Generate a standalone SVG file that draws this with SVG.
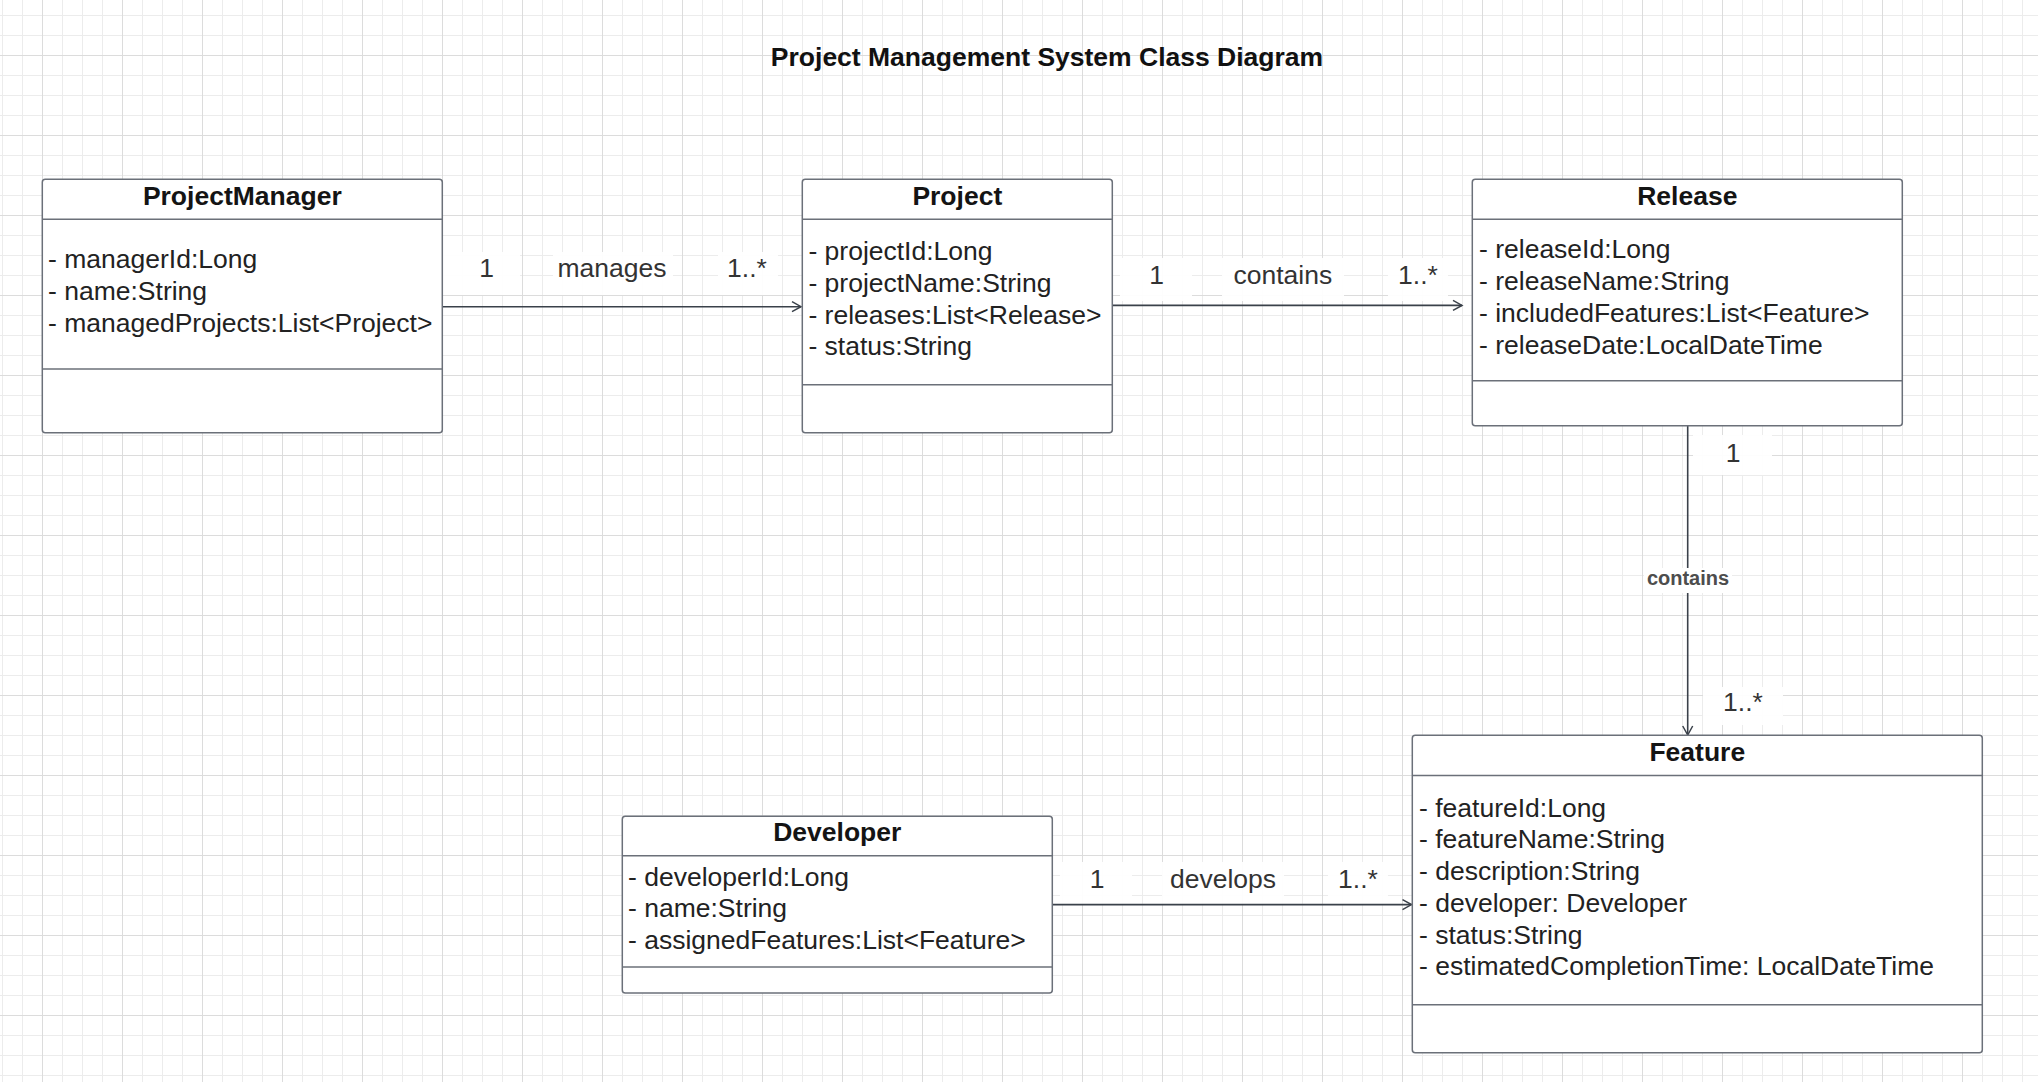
<svg xmlns="http://www.w3.org/2000/svg" width="2038" height="1082" viewBox="0 0 2038 1082">
<defs>
<pattern id="grid" x="2" y="15" width="80" height="80" patternUnits="userSpaceOnUse">
<path d="M0.5,0V80M20.5,0V80M60.5,0V80M0,0.5H80M0,20.5H80M0,60.5H80" stroke="#ececec" stroke-width="1" fill="none"/>
<path d="M40.5,0V80M0,40.5H80" stroke="#dcdcdc" stroke-width="1" fill="none"/>
</pattern>
<marker id="arr" markerWidth="14" markerHeight="14" refX="0" refY="0" viewBox="-12 -7 14 14" markerUnits="userSpaceOnUse" orient="auto">
<path d="M-9,-5 L0,0 L-9,5" fill="none" stroke="#3a414a" stroke-width="1.5"/>
</marker>
<style>
.box{fill:#fff;stroke:#6b7079;stroke-width:1.5}
.sep{stroke:#6b7079;stroke-width:1.5}
.hdr{font-family:"Liberation Sans",Arial,sans-serif;font-size:26.5px;font-weight:bold;fill:#141414;text-anchor:middle}
.att{font-family:"Liberation Sans",Arial,sans-serif;font-size:26.5px;fill:#222}
.lbl{font-family:"Liberation Sans",Arial,sans-serif;font-size:26.5px;fill:#333;text-anchor:middle}
.small{font-family:"Liberation Sans",Arial,sans-serif;font-size:20px;font-weight:bold;fill:#4d4d4d;text-anchor:middle}
.bg{fill:#fff;opacity:0.92}
.con{stroke:#3a414a;stroke-width:1.6;fill:none}
</style>
</defs>
<rect width="2038" height="1082" fill="#fff"/>
<rect width="2038" height="1082" fill="url(#grid)"/>

<text x="1047" y="66" class="hdr" style="fill:#111">Project Management System Class Diagram</text>

<g id="connectors">
<rect class="bg" x="442" y="252" width="78" height="43"/>
<rect class="bg" x="553" y="252" width="120" height="43"/>
<rect class="bg" x="718" y="252" width="60" height="43"/>
<line class="con" x1="442.3" y1="306.7" x2="801" y2="306.7" marker-end="url(#arr)"/>
<text class="lbl" x="486.7" y="277">1</text>
<text class="lbl" x="612" y="277">manages</text>
<text class="lbl" x="747" y="277">1..*</text>

<rect class="bg" x="1120" y="258" width="72" height="43"/>
<rect class="bg" x="1222" y="258" width="122" height="43"/>
<rect class="bg" x="1388" y="258" width="60" height="43"/>
<line class="con" x1="1112.3" y1="305.4" x2="1462" y2="305.4" marker-end="url(#arr)"/>
<text class="lbl" x="1156.7" y="283.5">1</text>
<text class="lbl" x="1282.8" y="283.5">contains</text>
<text class="lbl" x="1418" y="283.5">1..*</text>

<rect class="bg" x="1693" y="435" width="79" height="40"/>
<rect class="bg" x="1703" y="687" width="80" height="38"/>
<line class="con" x1="1687.7" y1="425.7" x2="1687.7" y2="735" marker-end="url(#arr)"/>
<rect x="1644" y="568" width="88" height="25" fill="#fff"/>
<text class="small" x="1688" y="585">contains</text>
<text class="lbl" x="1733" y="461.7">1</text>
<text class="lbl" x="1743" y="710.7">1..*</text>

<rect class="bg" x="1060" y="862" width="72" height="43"/>
<rect class="bg" x="1162" y="862" width="122" height="43"/>
<rect class="bg" x="1328" y="862" width="60" height="43"/>
<line class="con" x1="1052.3" y1="904.6" x2="1411.5" y2="904.6" marker-end="url(#arr)"/>
<text class="lbl" x="1097" y="888">1</text>
<text class="lbl" x="1223" y="888">develops</text>
<text class="lbl" x="1358" y="888">1..*</text>
</g>

<g id="ProjectManager">
<rect class="box" x="42.3" y="179.3" width="400" height="253.5" rx="3"/>
<line class="sep" x1="42.3" y1="219.3" x2="442.3" y2="219.3"/>
<line class="sep" x1="42.3" y1="369" x2="442.3" y2="369"/>
<text class="hdr" x="242.3" y="204.5">ProjectManager</text>
<text class="att" x="48" y="268">- managerId:Long</text>
<text class="att" x="48" y="299.5">- name:String</text>
<text class="att" x="48" y="331.5">- managedProjects:List&lt;Project&gt;</text>
</g>

<g id="Project">
<rect class="box" x="802.3" y="179.3" width="310" height="253.5" rx="3"/>
<line class="sep" x1="802.3" y1="219.3" x2="1112.3" y2="219.3"/>
<line class="sep" x1="802.3" y1="384.7" x2="1112.3" y2="384.7"/>
<text class="hdr" x="957.3" y="204.5">Project</text>
<text class="att" x="808.4" y="260">- projectId:Long</text>
<text class="att" x="808.4" y="291.5">- projectName:String</text>
<text class="att" x="808.4" y="324">- releases:List&lt;Release&gt;</text>
<text class="att" x="808.4" y="355">- status:String</text>
</g>

<g id="Release">
<rect class="box" x="1472.3" y="179.3" width="430" height="246.4" rx="3"/>
<line class="sep" x1="1472.3" y1="219.3" x2="1902.3" y2="219.3"/>
<line class="sep" x1="1472.3" y1="380.8" x2="1902.3" y2="380.8"/>
<text class="hdr" x="1687.3" y="204.5">Release</text>
<text class="att" x="1479" y="257.7">- releaseId:Long</text>
<text class="att" x="1479" y="290">- releaseName:String</text>
<text class="att" x="1479" y="321.5">- includedFeatures:List&lt;Feature&gt;</text>
<text class="att" x="1479" y="354">- releaseDate:LocalDateTime</text>
</g>

<g id="Feature">
<rect class="box" x="1412.3" y="735.3" width="570" height="317.5" rx="3"/>
<line class="sep" x1="1412.3" y1="775.6" x2="1982.3" y2="775.6"/>
<line class="sep" x1="1412.3" y1="1004.7" x2="1982.3" y2="1004.7"/>
<text class="hdr" x="1697.3" y="760.5">Feature</text>
<text class="att" x="1419" y="816.5">- featureId:Long</text>
<text class="att" x="1419" y="848">- featureName:String</text>
<text class="att" x="1419" y="880">- description:String</text>
<text class="att" x="1419" y="911.5">- developer: Developer</text>
<text class="att" x="1419" y="944">- status:String</text>
<text class="att" x="1419" y="975">- estimatedCompletionTime: LocalDateTime</text>
</g>

<g id="Developer">
<rect class="box" x="622.3" y="816.2" width="430" height="176.8" rx="3"/>
<line class="sep" x1="622.3" y1="855.7" x2="1052.3" y2="855.7"/>
<line class="sep" x1="622.3" y1="967" x2="1052.3" y2="967"/>
<text class="hdr" x="837.3" y="841">Developer</text>
<text class="att" x="628" y="885.5">- developerId:Long</text>
<text class="att" x="628" y="917">- name:String</text>
<text class="att" x="628" y="949">- assignedFeatures:List&lt;Feature&gt;</text>
</g>
</svg>
